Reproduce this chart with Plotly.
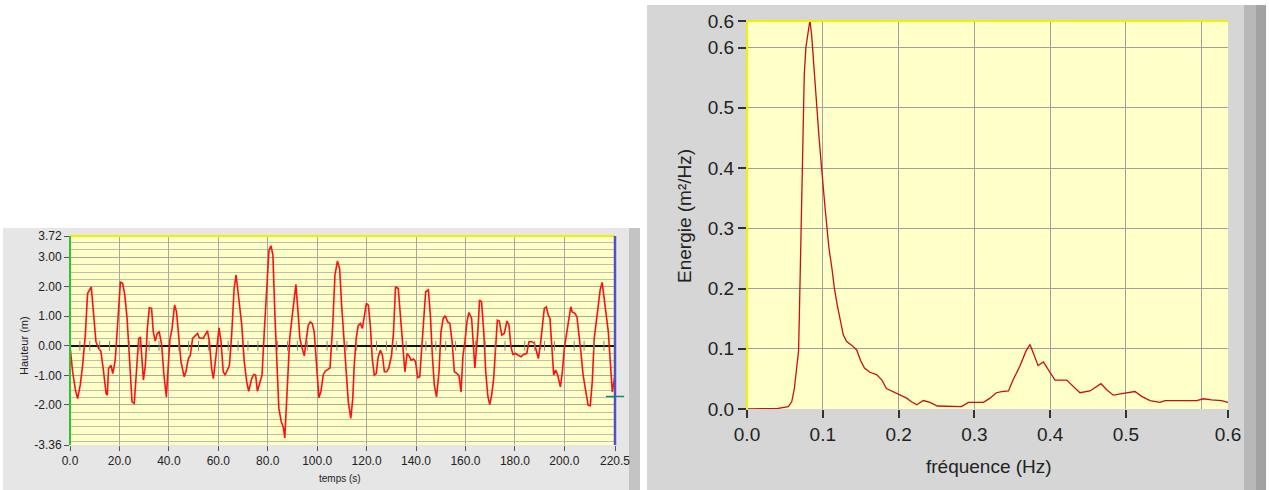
import plotly.graph_objects as go

# ---------------- data: wave height record ----------------
time_s = [0, 1.1, 2.2, 3.1, 4.2, 5.1, 6.2, 7.1, 8.6, 9.4, 10.5, 11.6, 12.5, 13.6, 14.6, 15.1, 15.6, 16.6, 17.3, 18.3,
          19.3, 20.4, 21.3, 22.1, 23.1, 24.0, 25.1, 26.0, 27.0, 27.8, 28.5, 29.1, 29.7, 30.5, 31.3, 32.1, 33.0, 33.7,
          34.5, 35.3, 36.1, 37.1, 38.0, 39.0, 39.6, 40.4, 41.3, 42.3, 43.1, 43.9, 44.9, 46.2, 46.9, 47.9, 48.7, 49.6,
          50.7, 51.6, 52.3, 53.9, 55.6, 56.4, 57.3, 58.0, 59.1, 60.3, 61.1, 62.0, 62.8, 64.5, 65.4, 66.4, 67.2, 68.1,
          69.5, 70.5, 71.5, 72.3, 73.5, 74.4, 75.1, 75.8, 76.6, 77.7, 78.6, 79.6, 80.5, 81.3, 82.1, 82.9, 83.7, 84.5,
          85.5, 86.3, 86.9, 87.6, 88.3, 88.9, 89.8, 90.6, 91.4, 92.2, 93.0, 94.0, 94.8, 95.5, 96.4, 97.2, 98.0, 98.8,
          99.8, 100.7, 101.5, 102.5, 103.3, 105.2, 106.3, 107.2, 108.2, 109.1, 109.9, 110.9, 111.7, 112.6, 113.6,
          114.4, 115.0, 115.8, 116.6, 117.5, 118.3, 119.1, 119.9, 120.7, 121.5, 122.3, 123.1, 123.9, 124.7, 125.6,
          126.4, 127.2, 128.1, 129.0, 130.1, 130.9, 131.7, 132.8, 133.6, 134.5, 135.5, 136.4, 137.2, 138.0, 139.0,
          139.8, 140.7, 141.5, 142.3, 143.1, 143.9, 145.0, 145.8, 146.6, 147.4, 148.3, 149.3, 150.1, 151.0, 151.8,
          152.8, 153.7, 154.6, 155.5, 156.6, 157.4, 158.2, 159.0, 159.8, 160.6, 161.4, 162.5, 163.8, 165.0, 165.7,
          166.5, 167.4, 168.2, 169.0, 169.8, 170.6, 171.4, 172.2, 172.9, 173.7, 174.7, 175.7, 176.8, 177.6, 178.4,
          179.2, 180.3, 181.4, 182.5, 183.5, 184.8, 185.7, 186.8, 187.9, 188.7, 189.5, 190.3, 191.1, 191.9, 192.7,
          193.5, 194.2, 194.9, 195.7, 196.5, 197.3, 198.4, 199.2, 200.0, 200.8, 201.6, 202.6, 203.2, 204.3, 205.1,
          205.9, 206.7, 207.6, 208.6, 209.6, 210.5, 211.3, 212.1, 212.9, 213.7, 214.5, 215.3, 216.2, 217.0, 217.8,
          218.6, 219.4, 220.5]
height_m = [0.0, -0.9, -1.5, -1.79, -1.3, -0.66, 0.36, 1.77, 2.0, 1.27, 0.14, -0.09, -0.18, -0.88, -1.62, -1.67, -0.77,
            -0.66, -0.94, -0.49, 0.70, 2.17, 2.11, 1.77, 0.93, -0.32, -1.90, -1.95, -0.66, 0.25, 0.28, -0.32, -1.16,
            -0.66, 0.59, 1.29, 1.27, 0.47, 0.16, 0.42, 0.47, 0.02, -0.99, -1.73, -0.77, 0.19, 0.59, 1.38, 1.15, 0.25,
            -0.54, -1.05, -0.88, -0.43, -0.32, 0.25, 0.34, 0.42, 0.27, 0.25, 0.51, 0.14, -0.77, -1.11, -0.32, 0.61,
            0.14, -0.88, -0.99, -0.66, 0.36, 1.94, 2.40, 1.72, 0.70, -0.54, -1.22, -1.54, -1.11, -0.97, -0.99, -1.54,
            -1.33, -0.99, 0.47, 1.94, 3.24, 3.39, 3.07, 1.04, -0.88, -2.12, -2.58, -2.75, -3.12, -2.01, -0.43, 0.25,
            0.93, 1.49, 2.08, 1.21, 0.25, -0.11, -0.34, 0.14, 0.70, 0.81, 0.76, 0.47, -0.66, -1.76, -1.56, -0.97,
            -0.86, -0.75, 0.70, 2.40, 2.87, 2.60, 1.38, 0.14, -0.88, -1.90, -2.46, -1.79, -0.66, 0.25, 0.68, 0.76,
            0.59, 1.04, 1.44, 1.38, 0.70, -0.43, -0.99, -0.94, -0.37, -0.15, -0.32, -0.88, -0.88, -0.75, -0.32, 0.47,
            2.00, 1.94, 1.15, 0.14, -0.88, -0.26, -0.34, -0.49, -0.45, -0.54, -1.08, -1.05, -0.09, 1.04, 1.83, 1.89,
            1.04, -0.32, -1.33, -1.73, -0.88, 0.47, 0.93, 1.02, 0.81, 0.76, 0.14, -0.88, -0.94, -1.02, -1.56, -0.32,
            0.14, 0.81, 1.13, 0.93, -0.75, 0.47, 1.55, 1.49, 0.47, -0.88, -1.67, -1.99, -1.67, -1.11, 0.14, 0.87,
            0.84, 0.36, 0.42, 0.84, 0.70, -0.03, -0.29, -0.26, -0.32, -0.37, -0.29, -0.26, 0.14, 0.14, 0.08, -0.15,
            -0.43, 0.02, 0.59, 1.27, 1.32, 1.04, 0.93, -0.09, -0.99, -0.82, -0.99, -1.39, -0.88, -0.09, 0.36, 0.93,
            1.32, 1.15, 1.10, 0.98, 0.47, -0.20, -0.99, -1.54, -2.01, -2.03, -1.22, 0.25, 0.87, 1.49, 1.89, 2.15,
            1.55, 1.04, 0.47, -0.54, -1.56, -0.99]

# ---------------- data: energy spectrum ----------------
freq_hz = [0.0, 0.039, 0.041, 0.0545, 0.059, 0.0625, 0.0655, 0.068, 0.069, 0.0708, 0.072, 0.074, 0.0756, 0.0778,
           0.081, 0.083, 0.0853, 0.0875, 0.0897, 0.092, 0.095, 0.0976, 0.100, 0.103, 0.1055, 0.108, 0.112, 0.1152,
           0.119, 0.123, 0.127, 0.1315, 0.138, 0.1447, 0.150, 0.155, 0.162, 0.171, 0.178, 0.184, 0.193, 0.202,
           0.2107, 0.217, 0.224, 0.2327, 0.2414, 0.251, 0.268, 0.283, 0.292, 0.312, 0.3206, 0.329, 0.336, 0.345,
           0.351, 0.360, 0.368, 0.3733, 0.3786, 0.384, 0.391, 0.3975, 0.4063, 0.4217, 0.4305, 0.4393, 0.4525,
           0.459, 0.467, 0.4745, 0.4833, 0.4965, 0.5119, 0.5207, 0.5317, 0.5449, 0.5515, 0.5933, 0.602, 0.613,
           0.6262, 0.6346]
energy = [0.0, 0.0, 0.001, 0.004, 0.012, 0.034, 0.073, 0.096, 0.151, 0.268, 0.362, 0.451, 0.557, 0.601, 0.629, 0.645,
          0.621, 0.579, 0.534, 0.490, 0.451, 0.412, 0.373, 0.334, 0.301, 0.268, 0.234, 0.201, 0.173, 0.146, 0.123,
          0.112, 0.106, 0.098, 0.080, 0.068, 0.061, 0.057, 0.048, 0.034, 0.029, 0.023, 0.018, 0.012, 0.007, 0.014,
          0.011, 0.005, 0.004, 0.004, 0.011, 0.011, 0.018, 0.027, 0.029, 0.030, 0.048, 0.071, 0.096, 0.107, 0.090,
          0.072, 0.078, 0.066, 0.048, 0.048, 0.037, 0.027, 0.030, 0.036, 0.042, 0.032, 0.023, 0.026, 0.029, 0.021,
          0.014, 0.011, 0.014, 0.014, 0.017, 0.015, 0.014, 0.011]

# axis tick definitions
left_x_ticks = [0, 20, 40, 60, 80, 100, 120, 140, 160, 180, 200, 220.5]
left_x_labels = ["0.0", "20.0", "40.0", "60.0", "80.0", "100.0", "120.0", "140.0", "160.0", "180.0", "200.0", "220.5"]
left_y_ticks = [-3.36, -2, -1, 0, 1, 2, 3, 3.72]
left_y_labels = ["-3.36", "-2.00", "-1.00", "0.00", "1.00", "2.00", "3.00", "3.72"]
right_x_ticks = [0, 0.1, 0.2, 0.3, 0.4, 0.5, 0.6346]
right_x_labels = ["0.0", "0.1", "0.2", "0.3", "0.4", "0.5", "0.6"]
right_y_ticks = [0, 0.1, 0.2, 0.3, 0.4, 0.5, 0.6, 0.644]
right_y_labels = ["0.0", "0.1", "0.2", "0.3", "0.4", "0.5", "0.6", "0.6"]

W, H = 1269, 490
def px(x): return x / W
def py(y): return 1 - y / H

FONT = "Liberation Sans, Arial, sans-serif"
PLOT_BG = "#FFFFC8"

fig = go.Figure()

fig.add_trace(go.Scatter(x=time_s, y=height_m, mode="lines", line=dict(color="#FF1010", width=1.6),
                         xaxis="x", yaxis="y", showlegend=False, hoverinfo="skip"))
# minor ticks drawn along zero line
zero_ticks = [v for v in range(4, 221, 4) if v % 20 != 0]
fig.add_trace(go.Scatter(x=zero_ticks, y=[0] * len(zero_ticks), mode="markers",
                         marker=dict(symbol="line-ns", size=7, line=dict(color="#8a8a7a", width=1)),
                         xaxis="x", yaxis="y", showlegend=False, hoverinfo="skip"))
# green cursor at end of record
fig.add_trace(go.Scatter(x=[220.5], y=[-1.72], mode="markers", cliponaxis=False,
                         marker=dict(symbol="cross-thin", size=13, line=dict(color="#109060", width=1.5)),
                         xaxis="x", yaxis="y", showlegend=False, hoverinfo="skip"))

fig.add_trace(go.Scatter(x=freq_hz, y=energy, mode="lines", line=dict(color="#C81010", width=1.3),
                         xaxis="x2", yaxis="y2", showlegend=False, hoverinfo="skip"))

tickfont_l = dict(family=FONT, size=12, color="#222")
tickfont_r = dict(family=FONT, size=19, color="#222")

fig.update_layout(
    template="none",
    width=W, height=H, autosize=False, showlegend=False,
    margin=dict(l=0, r=0, t=0, b=0, pad=0, autoexpand=False),
    paper_bgcolor="white", plot_bgcolor=PLOT_BG,
    font=dict(family=FONT),
    xaxis=dict(domain=[px(70), px(615)], range=[0, 220.5], anchor="y", automargin=False,
               tickmode="array", tickvals=left_x_ticks, ticktext=left_x_labels,
               ticks="outside", ticklen=5, tickwidth=1, tickcolor="#555", tickfont=tickfont_l,
               showgrid=True, gridcolor="#A8A8A0", gridwidth=1, zeroline=False, showline=False),
    yaxis=dict(domain=[py(445), py(236)], range=[-3.36, 3.72], anchor="x", automargin=False,
               tickmode="array", tickvals=left_y_ticks, ticktext=left_y_labels,
               ticks="outside", ticklen=5, tickwidth=1, tickcolor="#555", tickfont=tickfont_l,
               showgrid=True, gridcolor="#A8A8A0", gridwidth=1,
               minor=dict(tickvals=[k * 0.25 for k in range(-13, 15)], showgrid=True,
                          gridcolor="#BDBDB0", gridwidth=1, ticks=""),
               zeroline=True, zerolinecolor="#111", zerolinewidth=2, showline=False),
    xaxis2=dict(domain=[px(747), px(1228)], range=[0, 0.6346], anchor="y2", automargin=False,
                tickmode="array", tickvals=right_x_ticks, ticktext=right_x_labels,
                ticks="outside", ticklen=8, tickwidth=1.5, tickcolor="#333", tickfont=tickfont_r,
                showgrid=True, gridcolor="#A0A0A0", gridwidth=1,
                minor=dict(tickvals=[0.6], showgrid=True, gridcolor="#A0A0A0", ticks=""),
                zeroline=False, showline=False),
    yaxis2=dict(domain=[py(409), py(21)], range=[0, 0.644], anchor="x2", automargin=False,
                tickmode="array", tickvals=right_y_ticks, ticktext=right_y_labels,
                ticks="outside", ticklen=8, tickwidth=1.5, tickcolor="#333", tickfont=tickfont_r,
                showgrid=True, gridcolor="#A0A0A0", gridwidth=1,
                zeroline=False, showline=False),
)

shapes = [
    # left panel background
    dict(type="rect", xref="paper", yref="paper", x0=px(3), x1=px(640), y0=py(490), y1=py(228),
         fillcolor="#E6E6E6", line=dict(width=0), layer="below"),
    dict(type="rect", xref="paper", yref="paper", x0=px(629), x1=px(640), y0=py(490), y1=py(228),
         fillcolor="#C4C4C4", line=dict(width=0), layer="below"),
    # right panel background
    dict(type="rect", xref="paper", yref="paper", x0=px(647), x1=px(1266), y0=py(490), y1=py(5),
         fillcolor="#D6D6D6", line=dict(width=0), layer="below"),
    dict(type="rect", xref="paper", yref="paper", x0=px(1244), x1=px(1266), y0=py(490), y1=py(5),
         fillcolor="#B8B8B8", line=dict(width=0), layer="below"),
    dict(type="rect", xref="paper", yref="paper", x0=px(1256), x1=px(1266), y0=py(490), y1=py(5),
         fillcolor="#A2A2A2", line=dict(width=0), layer="below"),
    # plot-area fills (yellow) over the panels
    dict(type="rect", xref="x domain", yref="y domain", x0=0, x1=1, y0=0, y1=1,
         fillcolor=PLOT_BG, line=dict(width=0), layer="below"),
    dict(type="rect", xref="x2 domain", yref="y2 domain", x0=0, x1=1, y0=0, y1=1,
         fillcolor=PLOT_BG, line=dict(width=0), layer="below"),
    # left plot borders
    dict(type="line", xref="x domain", yref="y domain", x0=0, x1=1, y0=1, y1=1,
         line=dict(color="#F0F000", width=2), layer="above"),
    dict(type="line", xref="x domain", yref="y domain", x0=0, x1=0, y0=0, y1=1,
         line=dict(color="#30C030", width=2), layer="above"),
    dict(type="line", xref="x domain", yref="y domain", x0=1, x1=1, y0=0, y1=1,
         line=dict(color="#5050C8", width=2.5), layer="above"),
    # right plot borders
    dict(type="line", xref="x2 domain", yref="y2 domain", x0=0, x1=1, y0=1, y1=1,
         line=dict(color="#F0F000", width=2), layer="above"),
    dict(type="line", xref="x2 domain", yref="y2 domain", x0=0, x1=0, y0=0, y1=1,
         line=dict(color="#F0F000", width=2), layer="above"),
]
fig.update_layout(shapes=shapes)

annotations = [
    dict(text="Hauteur (m)", x=px(24), y=py(346), xref="paper", yref="paper", textangle=-90,
         showarrow=False, font=dict(family=FONT, size=11, color="#222"), xanchor="center", yanchor="middle"),
    dict(text="temps (s)", x=px(340), y=py(478), xref="paper", yref="paper",
         showarrow=False, font=dict(family=FONT, size=10, color="#222"), xanchor="center", yanchor="middle"),
    dict(text="Energie (m²/Hz)", x=px(685), y=py(216), xref="paper", yref="paper", textangle=-90,
         showarrow=False, font=dict(family=FONT, size=19, color="#222"), xanchor="center", yanchor="middle"),
    dict(text="fréquence (Hz)", x=px(989), y=py(466), xref="paper", yref="paper",
         showarrow=False, font=dict(family=FONT, size=19, color="#222"), xanchor="center", yanchor="middle"),
]
fig.update_layout(annotations=annotations)

fig.write_html("out.html", config={"displayModeBar": False})
